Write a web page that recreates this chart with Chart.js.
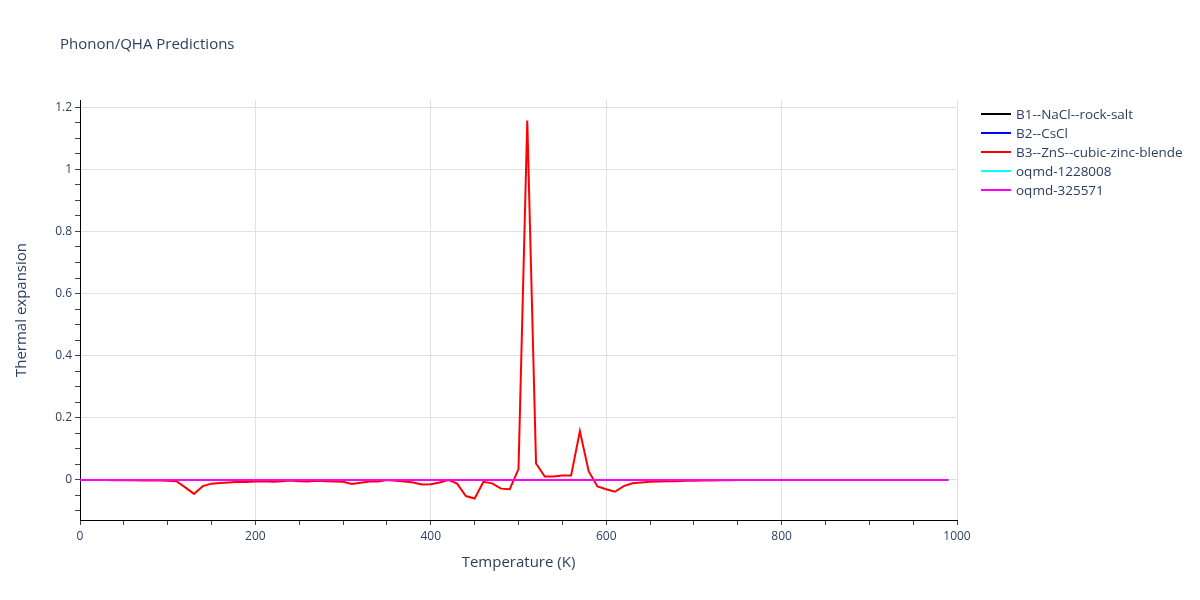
<!DOCTYPE html>
<html lang="en">
<head>
    <meta charset="UTF-8">
    <title>Phonon/QHA Predictions</title>
    <script src="https://cdn.jsdelivr.net/npm/chart.js"></script>
    <style>
        body { margin: 0; background: #fff; }
        .chart-wrapper { width: 1200px; height: 600px; }
        canvas { width: 1200px !important; height: 600px !important; }
    </style>
</head>
<body>
    <div class="chart-wrapper">
        <canvas id="myChart"></canvas>
    </div>

    <script>
        // temperatures 0..990 K, step 10
        const temps = [
            0, 10, 20, 30, 40, 50, 60, 70, 80, 90,
            100, 110, 120, 130, 140, 150, 160, 170, 180, 190,
            200, 210, 220, 230, 240, 250, 260, 270, 280, 290,
            300, 310, 320, 330, 340, 350, 360, 370, 380, 390,
            400, 410, 420, 430, 440, 450, 460, 470, 480, 490,
            500, 510, 520, 530, 540, 550, 560, 570, 580, 590,
            600, 610, 620, 630, 640, 650, 660, 670, 680, 690,
            700, 710, 720, 730, 740, 750, 760, 770, 780, 790,
            800, 810, 820, 830, 840, 850, 860, 870, 880, 890,
            900, 910, 920, 930, 940, 950, 960, 970, 980, 990
        ];

        const seriesNames = ['B1--NaCl--rock-salt', 'B2--CsCl', 'B3--ZnS--cubic-zinc-blende', 'oqmd-1228008', 'oqmd-325571'];
        const seriesColors = ['#000000', '#0000ff', '#ff0000', '#00ffff', '#ff00ff'];

        const nacl = [
            0, 0, 0, 0, 0, 0, 0, 0, 0, 0,
            0, 0, 0, 0, 0, 0, 0, 0, 0, 0,
            0, 0, 0, 0, 0, 0, 0, 0, 0, 0,
            0, 0, 0, 0, 0, 0, 0, 0, 0, 0,
            0, 0, 0, 0, 0, 0, 0, 0, 0, 0,
            0, 0, 0, 0, 0, 0, 0, 0, 0, 0,
            0, 0, 0, 0, 0, 0, 0, 0, 0, 0,
            0, 0, 0, 0, 0, 0, 0, 0, 0, 0,
            0, 0, 0, 0, 0, 0, 0, 0, 0, 0,
            0, 0, 0, 0, 0, 0, 0, 0, 0, 0
        ];
        const cscl = nacl.slice();
        const zns = [
            0, 0, 0, 0, -0.001, -0.001, -0.001, -0.002, -0.002, -0.002,
            -0.003, -0.004, -0.024, -0.045, -0.02, -0.012, -0.01, -0.008, -0.006, -0.007,
            -0.005, -0.004, -0.006, -0.004, -0.002, -0.004, -0.005, -0.003, -0.004, -0.005,
            -0.006, -0.013, -0.009, -0.005, -0.005, 0.0, -0.003, -0.005, -0.008, -0.015,
            -0.014, -0.008, 0.0, -0.012, -0.052, -0.06, -0.006, -0.011, -0.028, -0.03,
            0.035, 1.157, 0.053, 0.011, 0.011, 0.014, 0.014, 0.157, 0.028, -0.021,
            -0.03, -0.038, -0.02, -0.011, -0.008, -0.006, -0.005, -0.004, -0.004, -0.003,
            -0.003, -0.002, -0.002, -0.001, -0.001, 0, 0, 0, 0, 0,
            0, 0, 0, 0, 0, 0, 0, 0, 0, 0,
            0, 0, 0, 0, 0, 0, 0, 0, 0, 0
        ];
        const oqmd1228008 = nacl.slice();
        const oqmd325571 = nacl.slice();

        const allValues = [nacl, cscl, zns, oqmd1228008, oqmd325571];

        const xTickStep = 50;
        const xLabelStep = 200;
        const yTickStep = 0.05;
        const yLabelStep = 0.2;

        const fontFamily = '"Open Sans", "Noto Sans", sans-serif';
        const textColor = '#2a3f5f';
        const gridColor = '#e1e1e1';

        function isMultiple(v, step) {
            const r = Math.abs(v / step - Math.round(v / step));
            return r < 1e-6;
        }

        // title + legend drawn on the canvas
        const decorPlugin = {
            id: 'decorPlugin',
            afterDraw(chart) {
                const ctx = chart.ctx;
                ctx.save();
                ctx.fillStyle = textColor;
                ctx.textBaseline = 'middle';
                ctx.textAlign = 'left';
                ctx.font = '15px ' + fontFamily;
                ctx.fillText('Phonon/QHA Predictions', 60, 45);

                ctx.font = '13.5px ' + fontFamily;
                chart.data.datasets.forEach((ds, i) => {
                    const y = 114 + i * 19;
                    ctx.strokeStyle = ds.borderColor;
                    ctx.lineWidth = 2;
                    ctx.beginPath();
                    ctx.moveTo(981, y);
                    ctx.lineTo(1011, y);
                    ctx.stroke();
                    ctx.fillStyle = textColor;
                    ctx.fillText(ds.label, 1016, y + 1);
                });
                ctx.restore();
            }
        };

        const datasets = seriesNames.map((name, i) => ({
            label: name,
            data: temps.map((t, j) => ({ x: t, y: allValues[i][j] })),
            borderColor: seriesColors[i],
            backgroundColor: seriesColors[i],
            borderWidth: 2,
            pointRadius: 0,
            tension: 0,
            fill: false,
            order: seriesNames.length - i
        }));

        const ctx = document.getElementById('myChart').getContext('2d');
        const myChart = new Chart(ctx, {
            type: 'line',
            data: { datasets: datasets },
            options: {
                responsive: false,
                animation: false,
                layout: {
                    padding: { top: 100, right: 243, bottom: 0, left: 0 }
                },
                plugins: {
                    legend: { display: false },
                    title: { display: false },
                    tooltip: { enabled: false }
                },
                scales: {
                    x: {
                        type: 'linear',
                        min: 0,
                        max: 1000,
                        afterFit(scale) { scale.height = 80; },
                        border: { color: '#000000', width: 1 },
                        grid: {
                            color: c => (isMultiple(c.tick.value, xLabelStep) ? gridColor : 'rgba(0,0,0,0)'),
                            tickColor: '#444444',
                            tickLength: 5
                        },
                        ticks: {
                            stepSize: xTickStep,
                            autoSkip: false,
                            maxRotation: 0,
                            includeBounds: false,
                            padding: 4,
                            color: textColor,
                            font: { family: fontFamily, size: 12 },
                            callback: v => (isMultiple(v, xLabelStep) ? v : '')
                        },
                        title: {
                            display: true,
                            text: 'Temperature (K)',
                            color: textColor,
                            font: { family: fontFamily, size: 15 },
                            padding: { top: 0, bottom: 28 }
                        }
                    },
                    y: {
                        type: 'linear',
                        min: -0.129,
                        max: 1.223,
                        afterFit(scale) { scale.width = 80; },
                        border: { color: '#000000', width: 1 },
                        grid: {
                            color: c => (isMultiple(c.tick.value, yLabelStep) ? gridColor : 'rgba(0,0,0,0)'),
                            tickColor: '#444444',
                            tickLength: 5
                        },
                        ticks: {
                            stepSize: yTickStep,
                            autoSkip: false,
                            includeBounds: false,
                            padding: 3,
                            color: textColor,
                            font: { family: fontFamily, size: 12 },
                            callback: v => {
                                if (!isMultiple(v, yLabelStep)) return '';
                                const r = Math.round(v * 10) / 10;
                                return String(r);
                            }
                        },
                        title: {
                            display: true,
                            text: 'Thermal expansion',
                            color: textColor,
                            font: { family: fontFamily, size: 15 },
                            padding: { top: 13, bottom: 0 }
                        }
                    }
                }
            },
            plugins: [decorPlugin]
        });
    </script>
</body>
</html>
